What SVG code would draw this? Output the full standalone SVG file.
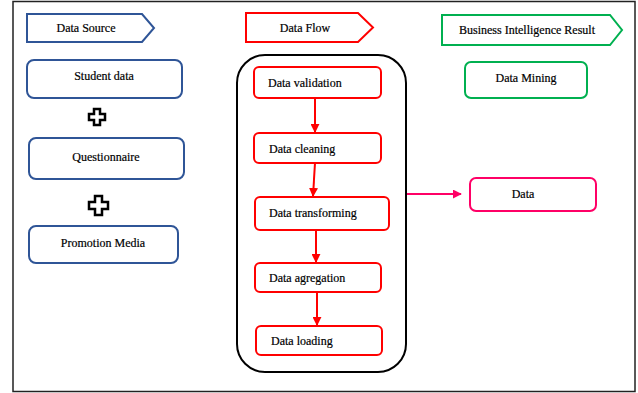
<svg xmlns="http://www.w3.org/2000/svg" width="638" height="393" viewBox="0 0 638 393">
<defs>
<style>
text{font-family:"Liberation Serif","DejaVu Serif",serif;font-size:12px;fill:#000;stroke:#000;stroke-width:0.2;}
.c{text-anchor:middle;}
.blue{fill:#fff;stroke:#2F5597;stroke-width:2;}
.red{fill:#fff;stroke:#FF0000;stroke-width:2;}
.green{fill:#fff;stroke:#00B050;stroke-width:2;}
.pink{fill:#fff;stroke:#FF0066;stroke-width:2;}
.plus{fill:#fff;stroke:#000;stroke-width:2.5;}
.redline{stroke:#FF0000;stroke-width:2;fill:none;}
</style>
<marker id="ar" viewBox="0 0 10 10" refX="9" refY="5" markerWidth="4.5" markerHeight="4.5" orient="auto"><path d="M0,0 L10,5 L0,10 z" fill="#FF0000"/></marker>
<marker id="ap" viewBox="0 0 10 10" refX="9" refY="5" markerWidth="4.5" markerHeight="4.5" orient="auto"><path d="M0,0 L10,5 L0,10 z" fill="#FF0066"/></marker>
</defs>
<rect x="0" y="0" width="638" height="393" fill="#fff"/>
<rect x="13" y="1.5" width="622" height="390" fill="none" stroke="#222" stroke-width="1.5"/>

<g id="data-source-header"><path class="blue" d="M27,14 L142,14 L154,28 L142,42 L27,42 Z"/><text class="c" x="86" y="32">Data Source</text></g>
<g id="student-data"><rect class="blue" x="27" y="60" width="155" height="38" rx="7"/><text class="c" x="104" y="80">Student data</text></g>
<g id="plus1"><path class="plus" d="M94,109 h6 v5 h5 v6 h-5 v5 h-6 v-5 h-5 v-6 h5 z"/></g>
<g id="questionnaire"><rect class="blue" x="29" y="138" width="155" height="41" rx="7"/><text class="c" x="106" y="161">Questionnaire</text></g>
<g id="plus2"><path class="plus" d="M95,196 h7 v6 h6 v7 h-6 v6 h-7 v-6 h-6 v-7 h6 z"/></g>
<g id="promotion-media"><rect class="blue" x="29" y="226" width="149" height="37" rx="7"/><text class="c" x="103" y="247">Promotion Media</text></g>

<g id="data-flow-header"><path class="red" d="M246,13 L358,13 L373,27.5 L358,42 L246,42 Z"/><text class="c" x="305" y="32">Data Flow</text></g>
<g id="flow-container"><rect x="237" y="55" width="169" height="317" rx="28" fill="none" stroke="#000" stroke-width="2"/></g>
<g id="data-validation"><rect class="red" x="254" y="67" width="127" height="31" rx="5"/><text x="268" y="87">Data validation</text></g>
<g id="data-cleaning"><rect class="red" x="254" y="133" width="127" height="30" rx="5"/><text x="269" y="153">Data cleaning</text></g>
<g id="data-transforming"><rect class="red" x="255" y="197" width="134" height="33" rx="5"/><text x="269" y="217">Data transforming</text></g>
<g id="data-agregation"><rect class="red" x="255" y="263" width="126" height="29" rx="5"/><text x="269" y="282">Data agregation</text></g>
<g id="data-loading"><rect class="red" x="256" y="326" width="126" height="29" rx="5"/><text x="271" y="345">Data loading</text></g>

<g id="bi-header"><path class="green" d="M442,15 L610,15 L622,30 L610,45 L442,45 Z"/><text class="c" x="527" y="34">Business Intelligence Result</text></g>
<g id="data-mining"><rect class="green" x="465" y="62" width="122" height="36" rx="6"/><text class="c" x="526" y="82">Data Mining</text></g>
<g id="data"><rect class="pink" x="470" y="178" width="126" height="33" rx="6"/><text class="c" x="523" y="198">Data</text></g>

<g id="connectors">
<line class="redline" x1="315" y1="98" x2="315" y2="132" marker-end="url(#ar)"/>
<line class="redline" x1="315" y1="163" x2="313" y2="196" marker-end="url(#ar)"/>
<line class="redline" x1="316" y1="230" x2="316" y2="262" marker-end="url(#ar)"/>
<line class="redline" x1="317" y1="292" x2="317" y2="325" marker-end="url(#ar)"/>
<line x1="407" y1="194" x2="461" y2="194" stroke="#FF0066" stroke-width="2" marker-end="url(#ap)"/>
</g>
</svg>
